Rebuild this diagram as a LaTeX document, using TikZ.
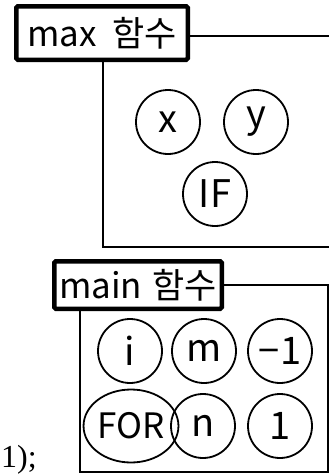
\documentclass[tikz,border=0pt]{standalone}
\usepackage{fontspec}
\setmainfont{Noto Sans CJK KR}
\newfontfamily\codefont{Liberation Serif}
\usepackage{tikz}
\usetikzlibrary{shapes.geometric, positioning}

\begin{document}
\begin{tikzpicture}[x=1pt, y=-1pt]

\tikzset{
  frameline/.style={black, line width=2.2pt},
  scopelbl/.style={draw, fill=white, line width=4.5pt, rounded corners=1.5pt,
    inner sep=0pt, font=\fontsize{35}{40}\selectfont},
  varcirc/.style={draw, circle, line width=1.8pt, minimum size=64pt,
    inner sep=0pt, font=\fontsize{38}{42}\selectfont},
}

  \useasboundingbox (0,0) rectangle (329,474);

  % ── max function scope ────────────────────────────────────
  \draw[frameline] (103,36) rectangle (345,247);
  \node[scopelbl, minimum width=171.5pt, minimum height=53.5pt]
    (maxlbl) at (102,33) {max\hspace{15pt}함수};

  % Variables (circles)
  \foreach \x/\y/\lbl/\nm in {
    168/122/x/vx,
    256/122/y/vy,
    215/194/IF/vif
  }{
    \node[varcirc] (\nm) at (\x,\y) {\lbl};
  }

  % ── main function scope ───────────────────────────────────
  \draw[frameline] (80,285) rectangle (328,472);
  \node[scopelbl, minimum width=167.5pt, minimum height=47.5pt]
    (mainlbl) at (138,285) {main\hspace{10pt}함수};

  % Variables (circles)
  \foreach \x/\y/\lbl/\nm in {
    130/351/i/vi,
    204/351/m/vm,
    280/351/−1/vneg,
    203/426/n/vn,
    280/426/1/vone
  }{
    \node[varcirc] (\nm) at (\x,\y) {\lbl};
  }
  \node[varcirc, ellipse, minimum width=86pt, minimum height=73pt,
    font=\fontsize{35}{40}\selectfont]
    (vfor) at (131,426) {FOR};

  % ── code fragment ─────────────────────────────────────────
  \node[anchor=base west, inner sep=0pt, font=\codefont\fontsize{32}{36}\selectfont]
    (codetail) at (1,467) {1);};

\end{tikzpicture}
\end{document}
